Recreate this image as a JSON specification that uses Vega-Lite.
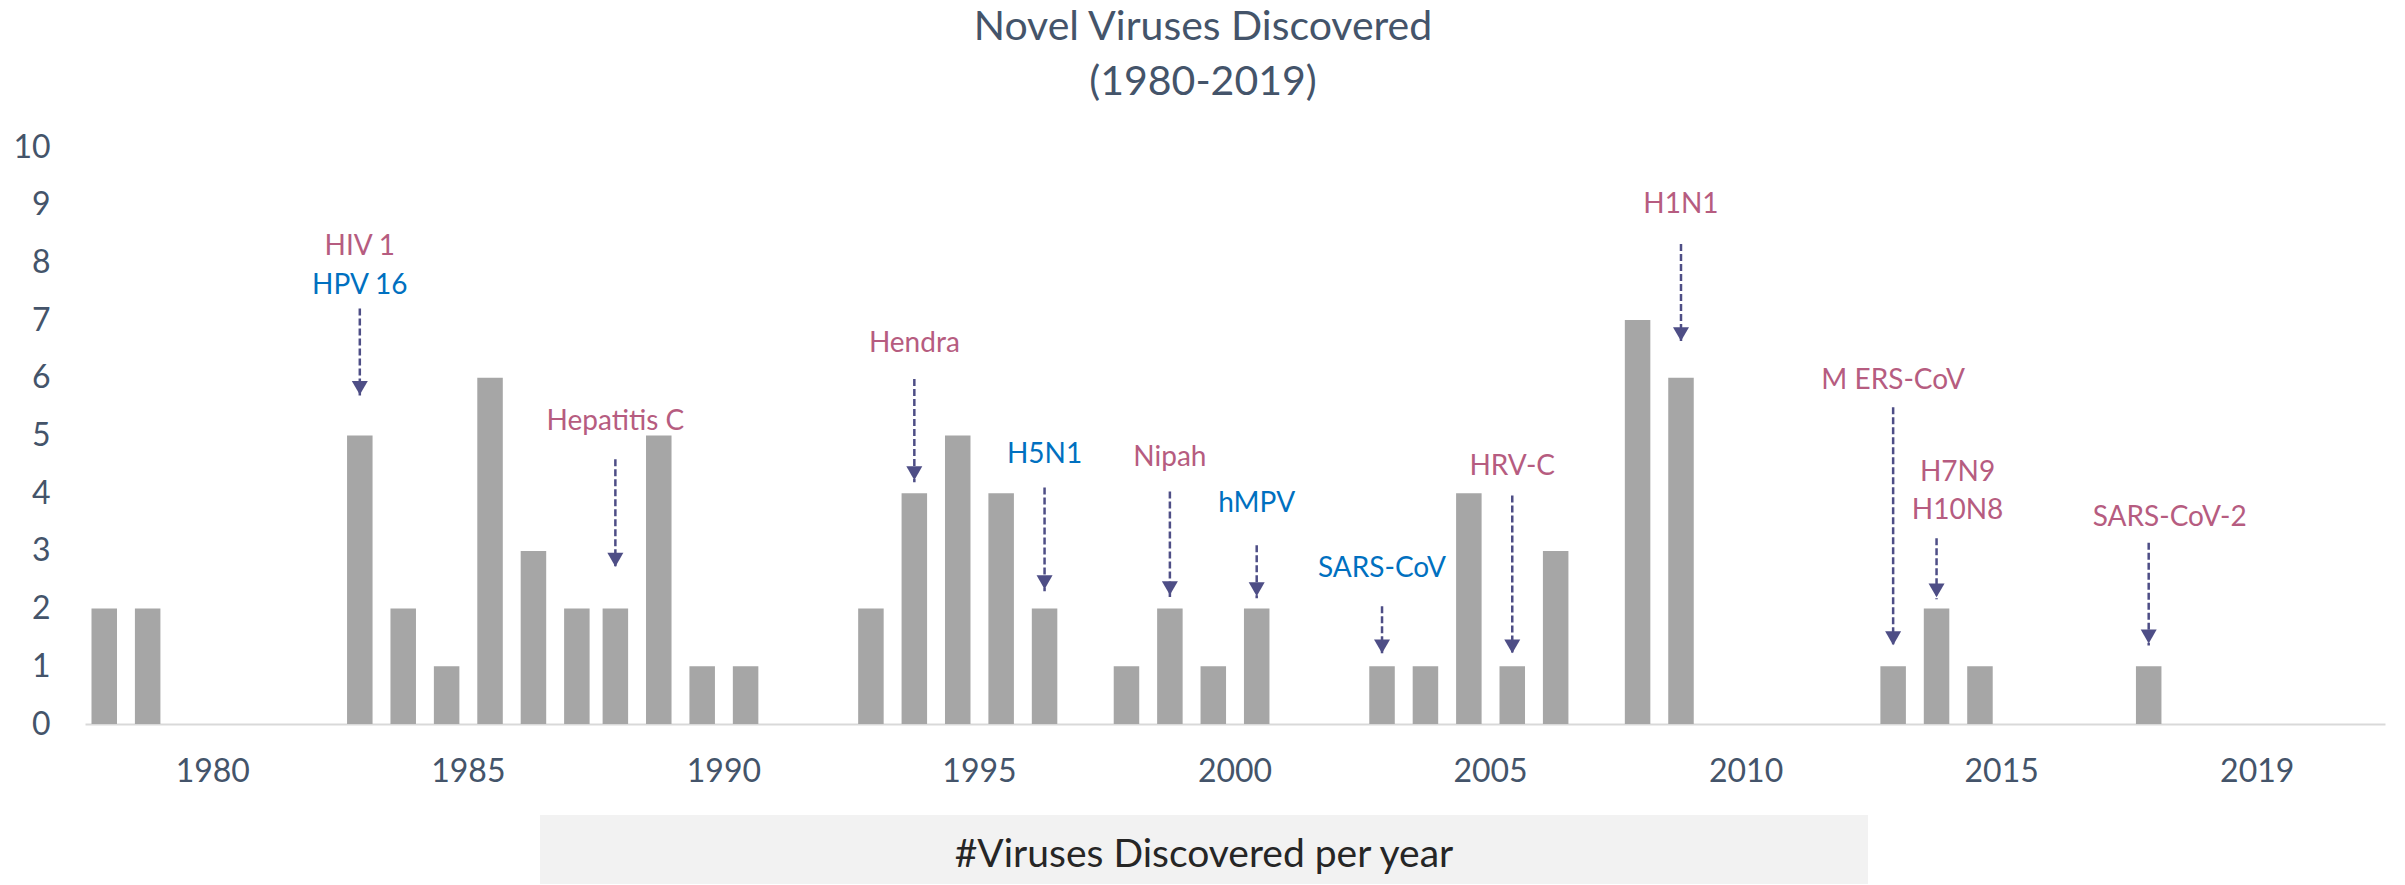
{
  "$schema": "https://vega.github.io/schema/vega-lite/v6.json",
  "background": "#ffffff",
  "padding": {"left": 0, "top": 7, "right": 20, "bottom": 0},
  "autosize": {"type": "pad"},
  "config": {"view": {"stroke": null}, "font": "Lato", "axis": {"grid": false}},
  "datasets": {
    "bars": [
      {"period": "1980", "slot": 0, "year": 1980, "count": 2},
      {"period": "1980", "slot": 1, "year": 1981, "count": 2},
      {"period": "1985", "slot": 0, "year": 1983, "count": 5},
      {"period": "1985", "slot": 1, "year": 1984, "count": 2},
      {"period": "1985", "slot": 2, "year": 1985, "count": 1},
      {"period": "1985", "slot": 3, "year": 1986, "count": 6},
      {"period": "1985", "slot": 4, "year": 1987, "count": 3},
      {"period": "1985", "slot": 5, "year": 1988, "count": 2},
      {"period": "1990", "slot": 0, "year": 1989, "count": 2},
      {"period": "1990", "slot": 1, "year": 1990, "count": 5},
      {"period": "1990", "slot": 2, "year": 1991, "count": 1},
      {"period": "1990", "slot": 3, "year": 1992, "count": 1},
      {"period": "1995", "slot": 0, "year": 1993, "count": 2},
      {"period": "1995", "slot": 1, "year": 1994, "count": 4},
      {"period": "1995", "slot": 2, "year": 1995, "count": 5},
      {"period": "1995", "slot": 3, "year": 1996, "count": 4},
      {"period": "1995", "slot": 4, "year": 1997, "count": 2},
      {"period": "2000", "slot": 0, "year": 1998, "count": 1},
      {"period": "2000", "slot": 1, "year": 1999, "count": 2},
      {"period": "2000", "slot": 2, "year": 2000, "count": 1},
      {"period": "2000", "slot": 3, "year": 2001, "count": 2},
      {"period": "2005", "slot": 0, "year": 2003, "count": 1},
      {"period": "2005", "slot": 1, "year": 2004, "count": 1},
      {"period": "2005", "slot": 2, "year": 2005, "count": 4},
      {"period": "2005", "slot": 3, "year": 2006, "count": 1},
      {"period": "2005", "slot": 4, "year": 2007, "count": 3},
      {"period": "2010", "slot": 0, "year": 2008, "count": 7},
      {"period": "2010", "slot": 1, "year": 2009, "count": 6},
      {"period": "2015", "slot": 0, "year": 2012, "count": 1},
      {"period": "2015", "slot": 1, "year": 2013, "count": 2},
      {"period": "2015", "slot": 2, "year": 2014, "count": 1},
      {"period": "2019", "slot": 0, "year": 2019, "count": 1}
    ],
    "arrows": [
      {"period": "1985", "slot": 0, "from": 7.2, "to": 5.67},
      {"period": "1990", "slot": 0, "from": 4.59, "to": 2.69},
      {"period": "1995", "slot": 1, "from": 5.98, "to": 4.19},
      {"period": "1995", "slot": 4, "from": 4.1, "to": 2.3},
      {"period": "2000", "slot": 1, "from": 4.03, "to": 2.2},
      {"period": "2000", "slot": 3, "from": 3.1, "to": 2.18},
      {"period": "2005", "slot": 0, "from": 2.04, "to": 1.19},
      {"period": "2005", "slot": 3, "from": 3.96, "to": 1.19},
      {"period": "2010", "slot": 1, "from": 8.32, "to": 6.6},
      {"period": "2015", "slot": 0, "from": 5.49, "to": 1.33},
      {"period": "2015", "slot": 1, "from": 3.22, "to": 2.16},
      {"period": "2019", "slot": 0, "from": 3.14, "to": 1.36}
    ],
    "labels": [
      {"period": "1985", "slot": 0, "label": "HIV 1", "tone": "rose", "ty": 8.12},
      {"period": "1985", "slot": 0, "label": "HPV 16", "tone": "blue", "ty": 7.45},
      {"period": "1990", "slot": 0, "label": "Hepatitis C", "tone": "rose", "ty": 5.1},
      {"period": "1995", "slot": 1, "label": "Hendra", "tone": "rose", "ty": 6.45},
      {"period": "1995", "slot": 4, "label": "H5N1", "tone": "blue", "ty": 4.53},
      {"period": "2000", "slot": 1, "label": "Nipah", "tone": "rose", "ty": 4.48},
      {"period": "2000", "slot": 3, "label": "hMPV", "tone": "blue", "ty": 3.68},
      {"period": "2005", "slot": 0, "label": "SARS-CoV", "tone": "blue", "ty": 2.55},
      {"period": "2005", "slot": 3, "label": "HRV-C", "tone": "rose", "ty": 4.31},
      {"period": "2010", "slot": 1, "label": "H1N1", "tone": "rose", "ty": 8.85},
      {"period": "2015", "slot": 0, "label": "M ERS-CoV", "tone": "rose", "ty": 5.81},
      {"period": "2015", "slot": 1, "label": "H7N9", "tone": "rose", "ty": 4.21},
      {"period": "2015", "slot": 1, "label": "H10N8", "tone": "rose", "ty": 3.55},
      {"period": "2019", "slot": 0, "label": "SARS-CoV-2", "tone": "rose", "ty": 3.43}
    ]
  },
  "vconcat": [
    {
      "width": 2300,
      "height": 577,
      "title": {
        "text": ["Novel Viruses Discovered", "(1980-2019)"],
        "font": "Lato",
        "fontSize": 41,
        "fontWeight": "normal",
        "lineHeight": 55,
        "color": "#44546A",
        "anchor": "middle",
        "frame": "group",
        "offset": 27,
        "dx": -32
      },
      "layer": [
        {
          "data": {"name": "bars"},
          "mark": {"type": "bar", "color": "#A6A6A6"},
          "encoding": {
            "x": {"field": "period", "type": "nominal", "sort": null, "title": null,
              "scale": {"domain": ["1980","1985","1990","1995","2000","2005","2010","2015","2019"], "paddingInner": 0, "paddingOuter": 0},
              "axis": {"title": null, "labelAngle": 0, "labelFont": "Lato", "labelFontSize": 32, "labelColor": "#44546A", "labelPadding": 32, "ticks": false, "domain": true, "domainColor": "#D9D9D9", "domainWidth": 2, "minExtent": 64, "maxExtent": 64}},
            "xOffset": {"field": "slot", "type": "nominal", "sort": null,
              "scale": {"domain": [0,1,2,3,4,5], "paddingInner": 0.4124, "paddingOuter": 0.1497}},
            "y": {"field": "count", "type": "quantitative", "title": null,
              "scale": {"domain": [0, 10], "nice": false, "zero": true},
              "axis": {"title": null, "values": [0,1,2,3,4,5,6,7,8,9,10], "format": "d", "labelFont": "Lato", "labelFontSize": 32, "labelColor": "#44546A", "labelPadding": 35, "ticks": false, "domain": false, "minExtent": 85, "maxExtent": 85}}
          }
        },
        {
          "data": {"name": "arrows"},
          "mark": {"type": "rule", "color": "#4E4E86", "strokeWidth": 2.5, "strokeDash": [7, 3]},
          "encoding": {
            "x": {"field": "period", "type": "nominal", "sort": null, "title": null},
            "xOffset": {"field": "slot", "type": "nominal", "sort": null},
            "y": {"field": "from", "type": "quantitative", "title": null},
            "y2": {"field": "to"}
          }
        },
        {
          "data": {"name": "arrows"},
          "mark": {"type": "point", "shape": "triangle-down", "filled": true, "size": 256, "color": "#4E4E86", "opacity": 1, "yOffset": -9},
          "encoding": {
            "x": {"field": "period", "type": "nominal", "sort": null, "title": null},
            "xOffset": {"field": "slot", "type": "nominal", "sort": null},
            "y": {"field": "to", "type": "quantitative", "title": null}
          }
        },
        {
          "data": {"name": "labels"},
          "transform": [{"filter": "datum.label != 'H7N9' && datum.label != 'H10N8' && datum.label != 'SARS-CoV-2'"}],
          "mark": {"type": "text", "font": "Lato", "fontSize": 28, "align": "center", "baseline": "alphabetic"},
          "encoding": {
            "x": {"field": "period", "type": "nominal", "sort": null, "title": null},
            "xOffset": {"field": "slot", "type": "nominal", "sort": null},
            "y": {"field": "ty", "type": "quantitative", "title": null},
            "text": {"field": "label"},
            "color": {"field": "tone", "type": "nominal", "legend": null,
              "scale": {"domain": ["rose", "blue"], "range": ["#B65C80", "#0070C0"]}}
          }
        },
        {
          "data": {"name": "labels"},
          "transform": [{"filter": "datum.label == 'H7N9' || datum.label == 'H10N8' || datum.label == 'SARS-CoV-2'"}],
          "mark": {"type": "text", "font": "Lato", "fontSize": 28, "align": "center", "baseline": "alphabetic", "dx": 21},
          "encoding": {
            "x": {"field": "period", "type": "nominal", "sort": null, "title": null},
            "xOffset": {"field": "slot", "type": "nominal", "sort": null},
            "y": {"field": "ty", "type": "quantitative", "title": null},
            "text": {"field": "label"},
            "color": {"field": "tone", "type": "nominal", "legend": null}
          }
        }
      ]
    },
    {
      "spacing": 0,
      "hconcat": [
        {
          "width": 455,
          "height": 69,
          "data": {"values": [{"blank": ""}]},
          "mark": {"type": "text"},
          "encoding": {"text": {"field": "blank"}}
        },
        {
          "width": 1328,
          "height": 69,
          "view": {"fill": "#F2F2F2", "stroke": null},
          "data": {"values": [{"caption": "#Viruses Discovered per year"}]},
          "mark": {"type": "text", "font": "Lato", "fontSize": 39, "color": "#262626", "baseline": "middle", "align": "center", "dy": 5},
          "encoding": {"text": {"field": "caption"}}
        }
      ]
    }
  ],
  "spacing": 27
}
